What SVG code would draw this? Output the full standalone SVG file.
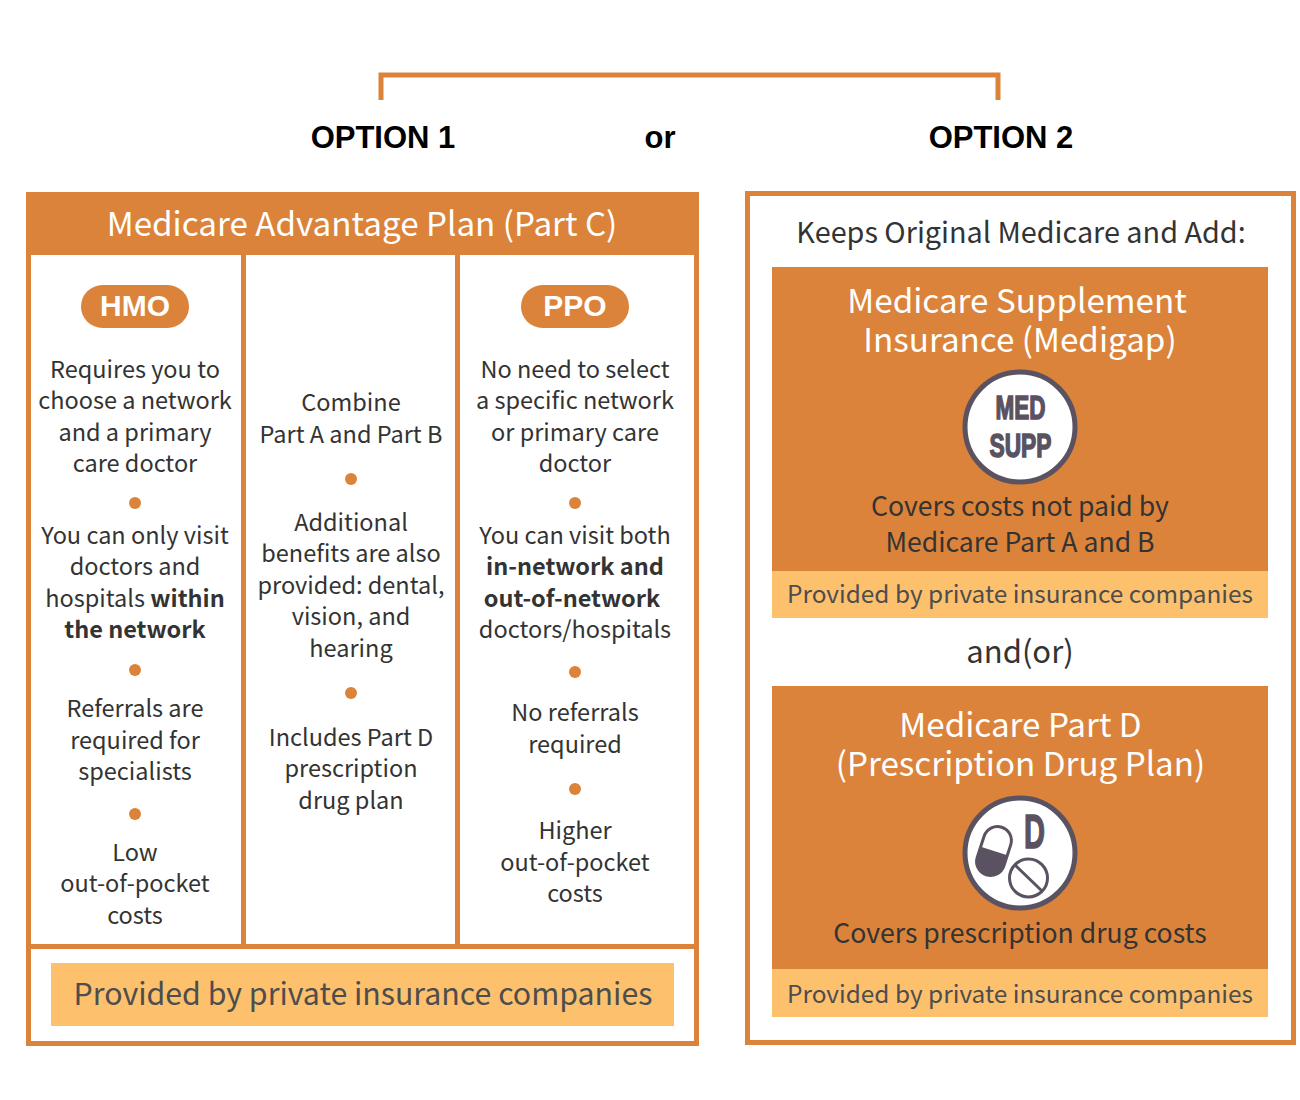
<svg xmlns="http://www.w3.org/2000/svg" width="1300" height="1100" viewBox="0 0 1300 1100">
<style>
text{font-family:"Noto Sans CJK SC","Noto Sans",sans-serif;text-anchor:middle;fill:#333}
.b{font-size:23.500px}
.c{font-size:26.600px}
.s{font-weight:700}
.h{font-family:"Liberation Sans",Arial,sans-serif;font-weight:700;font-size:31px;fill:#000}
.t{font-size:33.200px;fill:#fff}
.p{font-size:24.400px;fill:#4d4d4d}
.big{font-size:30.300px;fill:#4d4d4d}
.pill{font-family:"Liberation Sans",Arial,sans-serif;font-weight:700;font-size:30px;fill:#fff}
.o{fill:#db833a}
.y{fill:#fdc06d}
.dot{fill:#db833a}
.ic{fill:#fff;stroke:#5a5260;stroke-width:5}
.ict{font-family:"Liberation Sans",Arial,sans-serif;font-weight:700;font-size:33px;fill:#5a5260;stroke:#5a5260;stroke-width:1.500}
</style>
<rect width="1300" height="1100" fill="#fff"/>
<g id="connectors"><path d="M381 100V75H998V100" fill="none" stroke="#db833a" stroke-width="5"/></g>
<g id="labels">
<text class="h" x="383" y="148">OPTION 1</text>
<text class="h" x="660" y="148">or</text>
<text class="h" x="1001" y="148">OPTION 2</text>
</g>
<g id="option1">
<rect x="28.500" y="194.500" width="668" height="849" fill="#fff" stroke="#db833a" stroke-width="5"/>
<rect class="o" x="26" y="192" width="673" height="63"/>
<text class="t" x="362" y="236">Medicare Advantage Plan (Part C)</text>
<rect class="o" x="241" y="255" width="5" height="690"/>
<rect class="o" x="455" y="255" width="5" height="690"/>
<rect class="o" x="31" y="944" width="663" height="5"/>
<rect class="y" x="51" y="963" width="623" height="63"/>
<text class="big" x="363" y="1005">Provided by private insurance companies</text>
</g>
<g id="hmo">
<rect class="o" x="81" y="285" width="108" height="43" rx="21.500"/>
<text class="pill" x="135" y="316">HMO</text>
<text class="b" x="135" y="378">Requires you to</text>
<text class="b" x="135" y="409">choose a network</text>
<text class="b" x="135" y="441">and a primary</text>
<text class="b" x="135" y="472">care doctor</text>
<circle class="dot" cx="135" cy="503" r="6"/>
<text class="b" x="135" y="544">You can only visit</text>
<text class="b" x="135" y="575">doctors and</text>
<text class="b" x="135" y="607">hospitals <tspan class="s">within</tspan></text>
<text class="b s" x="135" y="638">the network</text>
<circle class="dot" cx="135" cy="670" r="6"/>
<text class="b" x="135" y="717">Referrals are</text>
<text class="b" x="135" y="749">required for</text>
<text class="b" x="135" y="780">specialists</text>
<circle class="dot" cx="135" cy="814" r="6"/>
<text class="b" x="135" y="861">Low</text>
<text class="b" x="135" y="892">out-of-pocket</text>
<text class="b" x="135" y="924">costs</text>
</g>
<g id="combined">
<text class="b" x="351" y="411">Combine</text>
<text class="b" x="351" y="443">Part A and Part B</text>
<circle class="dot" cx="351" cy="479" r="6"/>
<text class="b" x="351" y="531">Additional</text>
<text class="b" x="351" y="562">benefits are also</text>
<text class="b" x="351" y="594">provided: dental,</text>
<text class="b" x="351" y="625">vision, and</text>
<text class="b" x="351" y="657">hearing</text>
<circle class="dot" cx="351" cy="693" r="6"/>
<text class="b" x="351" y="746">Includes Part D</text>
<text class="b" x="351" y="777">prescription</text>
<text class="b" x="351" y="809">drug plan</text>
</g>
<g id="ppo">
<rect class="o" x="521" y="285" width="108" height="43" rx="21.500"/>
<text class="pill" x="575" y="316">PPO</text>
<text class="b" x="575" y="378">No need to select</text>
<text class="b" x="575" y="409">a specific network</text>
<text class="b" x="575" y="441">or primary care</text>
<text class="b" x="575" y="472">doctor</text>
<circle class="dot" cx="575" cy="503" r="6"/>
<text class="b" x="575" y="544">You can visit both</text>
<text class="b s" x="575" y="575">in-network and</text>
<text class="b s" x="572" y="607">out-of-network</text>
<text class="b" x="575" y="638">doctors/hospitals</text>
<circle class="dot" cx="575" cy="672" r="6"/>
<text class="b" x="575" y="721">No referrals</text>
<text class="b" x="575" y="753">required</text>
<circle class="dot" cx="575" cy="789" r="6"/>
<text class="b" x="575" y="839">Higher</text>
<text class="b" x="575" y="871">out-of-pocket</text>
<text class="b" x="575" y="902">costs</text>
</g>
<g id="option2">
<rect x="747.500" y="193.500" width="546" height="849" fill="#fff" stroke="#db833a" stroke-width="5"/>
<text x="1021" y="243" font-size="28.800">Keeps Original Medicare and Add:</text>
<text x="1020" y="663" font-size="31">and(or)</text>
</g>
<g id="medigap">
<rect class="o" x="772" y="267" width="496" height="304"/>
<rect class="y" x="772" y="571" width="496" height="47"/>
<text class="t" x="1017" y="312.500">Medicare Supplement</text>
<text class="t" x="1020" y="351.500">Insurance (Medigap)</text>
<circle class="ic" cx="1020" cy="427" r="55"/>
<text class="ict" x="1020.500" y="419" textLength="50" lengthAdjust="spacingAndGlyphs">MED</text>
<text class="ict" x="1020.500" y="457" textLength="62" lengthAdjust="spacingAndGlyphs">SUPP</text>
<text class="c" x="1020" y="516">Covers costs not paid by</text>
<text class="c" x="1020" y="552">Medicare Part A and B</text>
<text class="p" x="1020" y="603">Provided by private insurance companies</text>
</g>
<g id="partd">
<rect class="o" x="772" y="686" width="496" height="283"/>
<rect class="y" x="772" y="969" width="496" height="48"/>
<text class="t" x="1020.500" y="737">Medicare Part D</text>
<text class="t" x="1020.500" y="776">(Prescription Drug Plan)</text>
<circle class="ic" cx="1020" cy="853" r="55"/>
<text class="ict" x="1034.500" y="848" style="font-size:48px" textLength="21" lengthAdjust="spacingAndGlyphs">D</text>
<g transform="rotate(18 994 851)">
<rect x="980" y="826" width="28" height="50" rx="14" fill="#fff" stroke="#5a5260" stroke-width="3"/>
<path d="M980 851H1008V862A14 14 0 0 1 980 862Z" fill="#5a5260"/>
</g>
<circle cx="1028.500" cy="878" r="19" fill="none" stroke="#5a5260" stroke-width="3"/>
<path d="M1015 865L1042 891" stroke="#5a5260" stroke-width="3"/>
<text class="c" x="1020" y="943">Covers prescription drug costs</text>
<text class="p" x="1020" y="1003">Provided by private insurance companies</text>
</g>
</svg>
